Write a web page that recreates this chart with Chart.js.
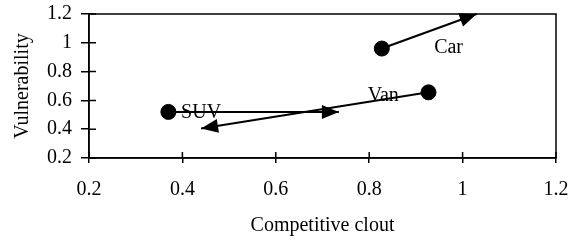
<!DOCTYPE html>
<html>
<head>
<meta charset="utf-8">
<script src="https://cdn.jsdelivr.net/npm/chart.js@4.4.1/dist/chart.umd.min.js"></script>
<style>
html, body { margin: 0; padding: 0; background: #fff; }
</style>
</head>
<body>
<canvas id="chart" width="581" height="247"></canvas>
<script>
// segments and where they sit now / where they are heading
const segments = ['SUV', 'Van', 'Car'];
const clout = [0.37, 0.927, 0.827];
const vulnerability = [0.52, 0.656, 0.96];
const cloutNext = [0.735, 0.44, 1.03];
const vulnerabilityNext = [0.52, 0.405, 1.2];
// where each segment name is written (data units)
const labelClout = [0.44, 0.83, 0.97];
const labelVulnerability = [0.515, 0.63, 0.965];
// axis ticks
const xTicks = [0.2, 0.4, 0.6, 0.8, 1, 1.2];
const yTicks = [0.2, 0.4, 0.6, 0.8, 1, 1.2];

const FONT = 'Liberation Serif';
const SIZE = 20;
Chart.defaults.font.family = FONT;
Chart.defaults.font.size = SIZE;
Chart.defaults.color = '#000';

const datasets = [];
segments.forEach((name, i) => {
	datasets.push({
		label: name + ' move',
		arrow: true,
		data: [{x: clout[i], y: vulnerability[i]}, {x: cloutNext[i], y: vulnerabilityNext[i]}],
		showLine: true,
		borderColor: '#000',
		borderWidth: 2,
		pointRadius: 0,
		pointHoverRadius: 0,
		clip: false
	});
});
datasets.push({
	label: 'Segments',
	data: segments.map((s, i) => ({x: clout[i], y: vulnerability[i]})),
	pointRadius: 7.5,
	pointBackgroundColor: '#000',
	pointBorderColor: '#000',
	showLine: false
});

const tickIn = {x: 6, y: 7};

const decorations = {
	id: 'decorations',
	afterDatasetsDraw(chart) {
		const ctx = chart.ctx;
		const xs = chart.scales.x, ys = chart.scales.y;
		// arrow heads
		chart.data.datasets.forEach((ds, i) => {
			if (!ds.arrow) return;
			const pts = chart.getDatasetMeta(i).data;
			const a = pts[0], b = pts[1];
			const ang = Math.atan2(b.y - a.y, b.x - a.x);
			const len = 17, half = 7;
			ctx.save();
			ctx.fillStyle = '#000';
			ctx.beginPath();
			ctx.moveTo(b.x, b.y);
			ctx.lineTo(b.x - len * Math.cos(ang) + half * Math.sin(ang), b.y - len * Math.sin(ang) - half * Math.cos(ang));
			ctx.lineTo(b.x - len * Math.cos(ang) - half * Math.sin(ang), b.y - len * Math.sin(ang) + half * Math.cos(ang));
			ctx.closePath();
			ctx.fill();
			ctx.restore();
		});
		// segment names
		ctx.save();
		ctx.fillStyle = '#000';
		ctx.font = SIZE + 'px "' + FONT + '"';
		ctx.textAlign = 'center';
		ctx.textBaseline = 'middle';
		segments.forEach((name, i) => {
			ctx.fillText(name, xs.getPixelForValue(labelClout[i]), ys.getPixelForValue(labelVulnerability[i]));
		});
		ctx.restore();
	},
	afterDraw(chart) {
		const ctx = chart.ctx;
		const ca = chart.chartArea;
		const xs = chart.scales.x, ys = chart.scales.y;
		ctx.save();
		ctx.strokeStyle = '#000';
		ctx.lineWidth = 1.5;
		ctx.strokeRect(ca.left, ca.top, ca.right - ca.left, ca.bottom - ca.top);
		ctx.beginPath();
		xTicks.forEach(v => {
			const px = xs.getPixelForValue(v);
			ctx.moveTo(px, ca.bottom);
			ctx.lineTo(px, ca.bottom - tickIn.x);
		});
		yTicks.forEach(v => {
			const py = ys.getPixelForValue(v);
			ctx.moveTo(ca.left, py);
			ctx.lineTo(ca.left + tickIn.y, py);
		});
		ctx.stroke();
		ctx.restore();
	}
};

new Chart(document.getElementById('chart'), {
	type: 'scatter',
	data: {datasets: datasets},
	options: {
		responsive: false,
		animation: false,
		layout: {padding: {top: 14, right: 25, bottom: 0, left: 0}},
		plugins: {legend: {display: false}, tooltip: {enabled: false}},
		scales: {
			x: {
				type: 'linear',
				min: 0.2,
				max: 1.2,
				afterBuildTicks: s => { s.ticks = xTicks.map(v => ({value: v})); },
				afterFit: s => { s.height = 89; s.paddingLeft = 0; s.paddingRight = 0; },
				ticks: {padding: 15, callback: v => String(v)},
				grid: {drawOnChartArea: false, tickLength: 5, color: '#000', lineWidth: 1.5},
				border: {color: '#000', width: 1.5},
				title: {display: true, text: 'Competitive clout', padding: {top: 0, bottom: 9}}
			},
			y: {
				type: 'linear',
				min: 0.2,
				max: 1.2,
				afterBuildTicks: s => { s.ticks = yTicks.map(v => ({value: v})); },
				afterFit: s => { s.width = 89; s.paddingTop = 0; s.paddingBottom = 0; },
				ticks: {padding: 9, callback: v => String(v)},
				grid: {drawOnChartArea: false, tickLength: 8, color: '#000', lineWidth: 1.5},
				border: {color: '#000', width: 1.5},
				title: {display: true, text: 'Vulnerability', padding: {top: 11, bottom: 0}}
			}
		}
	},
	plugins: [decorations]
});
</script>
</body>
</html>
